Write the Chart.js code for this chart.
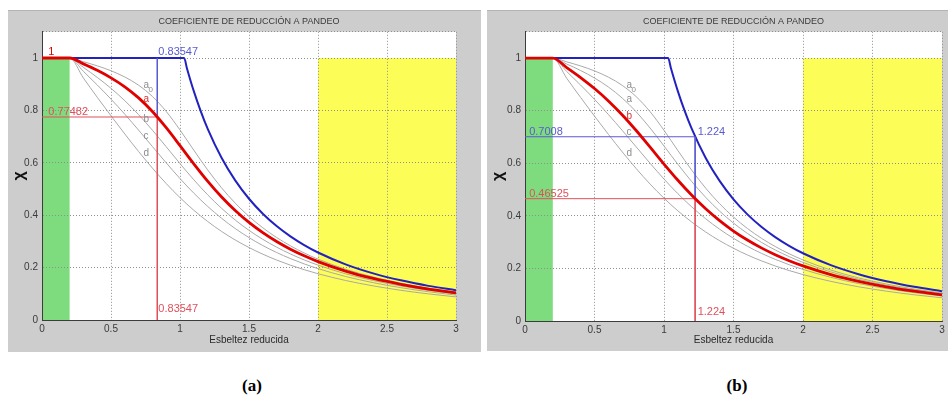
<!DOCTYPE html>
<html>
<head>
<meta charset="utf-8">
<title>Coeficiente de reducción a pandeo</title>
<script src="https://cdn.jsdelivr.net/npm/chart.js@4.4.1/dist/chart.umd.min.js"></script>
<style>
  body { margin: 0; background: #fff; width: 948px; height: 401px; position: relative; overflow: hidden; }
  .panel { position: absolute; }
  .caption { position: absolute; top: 376px; width: 60px; text-align: center;
             font: bold 17px "Liberation Serif", "Times New Roman", serif; color: #000; }
</style>
</head>
<body>
<div class="panel" style="left:8px;top:10px"><canvas id="chartA" width="473" height="342"></canvas></div>
<div class="panel" style="left:487px;top:10px"><canvas id="chartB" width="461" height="341"></canvas></div>
<div class="caption" style="left:222px">(a)</div>
<div class="caption" style="left:707px">(b)</div>
<script>
'use strict';

// esbeltez reducida (eje x) y coeficientes chi
let lambda = [0, 0.2, 0.3, 0.4, 0.5, 0.6, 0.7, 0.8, 0.9, 1.0, 1.1, 1.2, 1.3, 1.4, 1.5,
              1.6, 1.7, 1.8, 1.9, 2.0, 2.2, 2.4, 2.6, 2.8, 3.0];
let chiA0 = [1, 1, 0.9859, 0.9701, 0.9513, 0.9276, 0.8961, 0.8533, 0.7961, 0.7253, 0.6482, 0.5732, 0.5053,
             0.4461, 0.3953, 0.3520, 0.3150, 0.2833, 0.2559, 0.2323, 0.1937, 0.1639, 0.1404, 0.1216, 0.1063];
let chiA = [1, 1, 0.9775, 0.9528, 0.9243, 0.8900, 0.8477, 0.7957, 0.7339, 0.6656, 0.5960, 0.5300, 0.4703,
            0.4179, 0.3724, 0.3332, 0.2994, 0.2702, 0.2449, 0.2229, 0.1867, 0.1585, 0.1362, 0.1182, 0.1036];
let chiB = [1, 1, 0.9641, 0.9261, 0.8842, 0.8371, 0.7837, 0.7245, 0.6612, 0.5970, 0.5352, 0.4781, 0.4269,
            0.3817, 0.3422, 0.3079, 0.2781, 0.2521, 0.2294, 0.2095, 0.1765, 0.1506, 0.1299, 0.1132, 0.0994];
let chiC = [1, 1, 0.9491, 0.8973, 0.8430, 0.7854, 0.7247, 0.6622, 0.5998, 0.5399, 0.4842, 0.4338, 0.3888,
            0.3492, 0.3145, 0.2842, 0.2577, 0.2345, 0.2141, 0.1962, 0.1662, 0.1425, 0.1234, 0.1079, 0.0951];
let chiD = [1, 1, 0.9235, 0.8504, 0.7793, 0.7100, 0.6431, 0.5797, 0.5208, 0.4671, 0.4189, 0.3762, 0.3385,
            0.3055, 0.2766, 0.2512, 0.2289, 0.2093, 0.1920, 0.1766, 0.1508, 0.1302, 0.1134, 0.0997, 0.0882];

// curva azul (Euler)
let lambdaEuler = [0, 1.03, 1.05, 1.1, 1.15, 1.2, 1.3, 1.4, 1.5, 1.6, 1.7, 1.8, 1.9, 2.0, 2.2, 2.4, 2.6, 2.8, 3.0];
let chiEuler = [1, 1, 0.9612, 0.8734, 0.7972, 0.7305, 0.6200, 0.5328, 0.4628, 0.4057, 0.3586, 0.3192,
                0.2860, 0.2577, 0.2124, 0.1780, 0.1514, 0.1303, 0.1134];

let xTicks = [0, 0.5, 1, 1.5, 2, 2.5, 3];
let yTicks = [0, 0.2, 0.4, 0.6, 0.8, 1, 1.1];
let zoneGreen = [0, 0.2];
let zoneYellow = [2, 3];
let zoneTop = 1;

// valores marcados en cada caso
let lamA = 0.83547, chiValA = 0.77482;
let lamB = 1.224, chiEulB = 0.7008, chiValB = 0.46525;

const RED = '#e00000';
const RED_THIN = '#e0505c';
const BLUE = '#2222c0';
const BLUE_THIN = '#5a5ad0';
const GRAY = '#a9a9a9';
const FIG = '#cdcdcd';

Chart.defaults.font.family = '"Liberation Sans", Arial, Helvetica, sans-serif';

let toPts = function (xs, ys) {
    return xs.map((x, i) => ({x: x, y: ys[i]}));
};

let panels = [
    {
        id: 'chartA',
        red: chiA, redName: 'a',
        yWidth: 34, xHeight: 32, padRight: 25, xTitlePad: 6,
        blueLine: [{x: lamA, y: 1}, {x: lamA, y: chiValA}],
        redLine: [{x: 0, y: chiValA}, {x: lamA, y: chiValA}, {x: lamA, y: 0}],
        texts: [
            {t: '1', x: 0.045, y: 1.022, c: RED},
            {t: String(lamA), x: 0.843, y: 1.022, c: BLUE_THIN},
            {t: String(chiValA), x: 0.046, y: 0.793, c: RED_THIN},
            {t: String(lamA), x: 0.843, y: 0.041, c: RED_THIN}
        ],
        labelX: 0.735,
        labelY: [0.895, 0.842, 0.768, 0.702, 0.636]
    },
    {
        id: 'chartB',
        red: chiB, redName: 'b',
        yWidth: 38, xHeight: 30, padRight: 6, xTitlePad: 5,
        blueLine: [{x: 0, y: chiEulB}, {x: lamB, y: chiEulB}, {x: lamB, y: chiValB}],
        redLine: [{x: 0, y: chiValB}, {x: lamB, y: chiValB}, {x: lamB, y: 0}],
        texts: [
            {t: String(chiEulB), x: 0.03, y: 0.718, c: BLUE_THIN},
            {t: String(lamB), x: 1.242, y: 0.718, c: BLUE_THIN},
            {t: String(chiValB), x: 0.03, y: 0.484, c: RED_THIN},
            {t: String(lamB), x: 1.242, y: 0.035, c: RED_THIN}
        ],
        labelX: 0.73,
        labelY: [0.895, 0.845, 0.78, 0.718, 0.638]
    }
];

let curveNames = ['a0', 'a', 'b', 'c', 'd'];

let decoPlugin = {
    id: 'deco',
    beforeDraw(chart) {
        const {ctx, chartArea: area, scales: {x, y}} = chart;
        ctx.save();
        ctx.fillStyle = FIG;
        ctx.fillRect(0, 0, chart.width, chart.height);
        ctx.fillStyle = '#b4b4b4';
        ctx.fillRect(0, 0, chart.width, 1);
        ctx.fillStyle = '#ffffff';
        ctx.fillRect(area.left, area.top, area.right - area.left, area.bottom - area.top);
        let zones = [[zoneGreen, '#7edc7e'], [zoneYellow, '#fdfd58']];
        zones.forEach(z => {
            let x0 = x.getPixelForValue(z[0][0]);
            let x1 = x.getPixelForValue(z[0][1]);
            let y0 = y.getPixelForValue(zoneTop);
            let y1 = y.getPixelForValue(0);
            ctx.fillStyle = z[1];
            ctx.fillRect(x0, y0, x1 - x0, y1 - y0);
        });
        ctx.restore();
    },
    afterDatasetsDraw(chart) {
        const {ctx, scales: {x, y}} = chart;
        const p = chart.options.plugins.deco;
        ctx.save();
        ctx.textBaseline = 'middle';
        ctx.textAlign = 'left';
        ctx.font = '11px "Liberation Sans", Arial, sans-serif';
        p.texts.forEach(t => {
            ctx.fillStyle = t.c;
            ctx.fillText(t.t, x.getPixelForValue(t.x), y.getPixelForValue(t.y));
        });
        // nombres de las curvas
        curveNames.forEach((name, i) => {
            let px = x.getPixelForValue(p.labelX);
            let py = y.getPixelForValue(p.labelY[i]);
            ctx.fillStyle = name === p.redName ? '#d83030' : '#8c8c8c';
            ctx.font = '10px "Liberation Sans", Arial, sans-serif';
            ctx.fillText(name[0], px, py);
            if (name.length > 1) {
                ctx.font = '8px "Liberation Sans", Arial, sans-serif';
                ctx.fillText(name[1], px + 5, py + 4);
            }
        });
        ctx.restore();
    }
};

let renderPanel = function (p) {
    let gray = [chiA0, chiA, chiB, chiC, chiD].map(arr => ({
        data: toPts(lambda, arr),
        borderColor: GRAY, borderWidth: 1, cubicInterpolationMode: 'monotone'
    }));
    let datasets = [
        {data: toPts(lambda, p.red), borderColor: RED, borderWidth: 2.8, cubicInterpolationMode: 'monotone'},
        {data: p.redLine, borderColor: RED_THIN, borderWidth: 1, tension: 0},
        {data: p.blueLine, borderColor: BLUE_THIN, borderWidth: 1, tension: 0},
        {data: toPts(lambdaEuler, chiEuler), borderColor: BLUE, borderWidth: 2, cubicInterpolationMode: 'monotone'}
    ].concat(gray);

    new Chart(document.getElementById(p.id).getContext('2d'), {
        type: 'line',
        data: {datasets: datasets},
        plugins: [decoPlugin],
        options: {
            responsive: false,
            animation: false,
            devicePixelRatio: 1,
            layout: {padding: {left: 0, right: p.padRight, top: 0, bottom: 0}},
            elements: {point: {radius: 0}, line: {fill: false, borderCapStyle: 'butt'}},
            plugins: {
                legend: {display: false},
                tooltip: {enabled: false},
                title: {
                    display: true,
                    fullSize: false,
                    text: 'COEFICIENTE DE REDUCCIÓN A PANDEO',
                    color: '#3a3a3a',
                    font: {size: 9, weight: 'normal'},
                    padding: {top: 6, bottom: 5}
                },
                deco: {texts: p.texts, labelX: p.labelX, labelY: p.labelY, redName: p.redName}
            },
            scales: {
                x: {
                    type: 'linear', min: 0, max: 3,
                    afterBuildTicks: s => { s.ticks = xTicks.map(v => ({value: v})); },
                    afterFit: s => { s.height = p.xHeight; },
                    grid: {color: '#8f8f8f', lineWidth: 1, drawTicks: false},
                    border: {display: true, color: '#3c3c3c', width: 1, dash: [1, 2]},
                    ticks: {padding: 3, color: '#3a3a3a', font: {size: 10}, maxRotation: 0,
                            callback: v => String(v)},
                    title: {display: true, text: 'Esbeltez reducida', color: '#2a2a2a',
                            font: {size: 10}, padding: {top: 0, bottom: p.xTitlePad}}
                },
                y: {
                    type: 'linear', min: 0, max: 1.1,
                    afterBuildTicks: s => { s.ticks = yTicks.map(v => ({value: v})); },
                    afterFit: s => { s.width = p.yWidth; },
                    grid: {color: '#8f8f8f', lineWidth: 1, drawTicks: false},
                    border: {display: true, color: '#3c3c3c', width: 1, dash: [1, 2]},
                    ticks: {padding: 4, color: '#3a3a3a', font: {size: 10},
                            callback: v => (v > 1 ? '' : String(v))},
                    title: {display: true, text: 'χ', color: '#111',
                            font: {size: 16, weight: 'bold'}, padding: {top: 2, bottom: 0}}
                }
            }
        }
    });
};

panels.forEach(renderPanel);
</script>
</body>
</html>
